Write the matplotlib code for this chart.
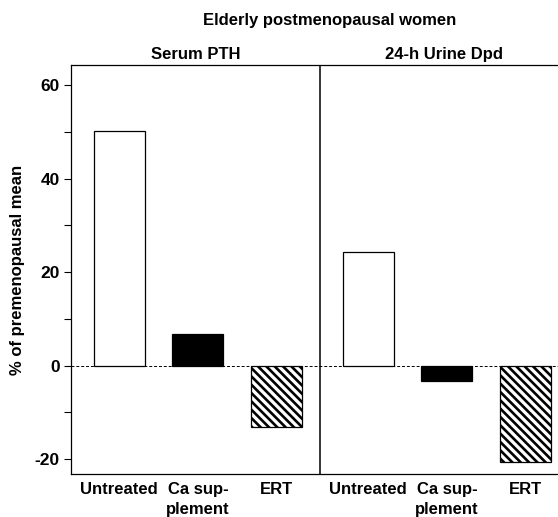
import matplotlib
matplotlib.use("Agg")
import matplotlib.pyplot as plt
import numpy as np

plt.rcParams["font.family"] = ["Liberation Sans", "DejaVu Sans"]
plt.rcParams["font.weight"] = "bold"
plt.rcParams["hatch.linewidth"] = 1.9
plt.rcParams["axes.unicode_minus"] = False

panels = ["Serum PTH", "24-h Urine Dpd"]
groups = ["Untreated", "Ca sup-\nplement", "ERT"]
serum_pth = [50.2, 6.8, -13.2]
urine_dpd = [24.4, -3.2, -20.6]
yticks = [-20, 0, 20, 40, 60]

styles = [dict(facecolor="white", hatch=None),
          dict(facecolor="black", hatch=None),
          dict(facecolor="white", hatch="\\" * 4)]

fig = plt.figure(figsize=(5.58, 5.17), dpi=100)
ax = fig.add_axes([71 / 558, 1 - 474 / 517, (569 - 71) / 558, (474 - 65) / 517])

panel_w = 3.15
offset = 0.61
for p, vals in enumerate([serum_pth, urine_dpd]):
    x0 = p * panel_w + offset
    xs = x0 + np.arange(len(vals)) * 0.995
    for x, v, st in zip(xs, vals, styles):
        ax.bar(x, v, width=0.645, edgecolor="black", linewidth=0.9,
               facecolor=st["facecolor"], hatch=st["hatch"], zorder=3)
    for x, g in zip(xs, groups):
        ax.text(x, -25.0, g, ha="center", va="top", fontsize=12,
                fontweight="bold", linespacing=1.35)
    ax.text(p * panel_w + panel_w / 2, 65.0, panels[p], ha="center",
            va="bottom", fontsize=12, fontweight="bold")

ax.axvline(panel_w, color="black", linewidth=1.1)
ax.axhline(0, color="black", linewidth=0.7, linestyle=(0, (3, 2)), zorder=2)

ax.set_xlim(0, 2 * panel_w)
ax.set_ylim(-23.2, 64.3)
ax.set_xticks([])
ax.set_yticks(yticks)
ax.set_yticks(np.arange(-10, 60, 20), minor=True)
ax.tick_params(axis="y", which="both", direction="out", length=5, width=0.8,
               labelsize=12.5, pad=3)
for lab in ax.get_yticklabels():
    lab.set_fontweight("bold")
for s in ax.spines.values():
    s.set_linewidth(0.9)

ax.set_ylabel("% of premenopausal mean", fontsize=12, fontweight="bold",
              labelpad=7)
fig.text(330 / 558, 1 - 20 / 517, "Elderly postmenopausal women",
         ha="center", va="center", fontsize=12, fontweight="bold")

fig.savefig("out.png", dpi=100)
